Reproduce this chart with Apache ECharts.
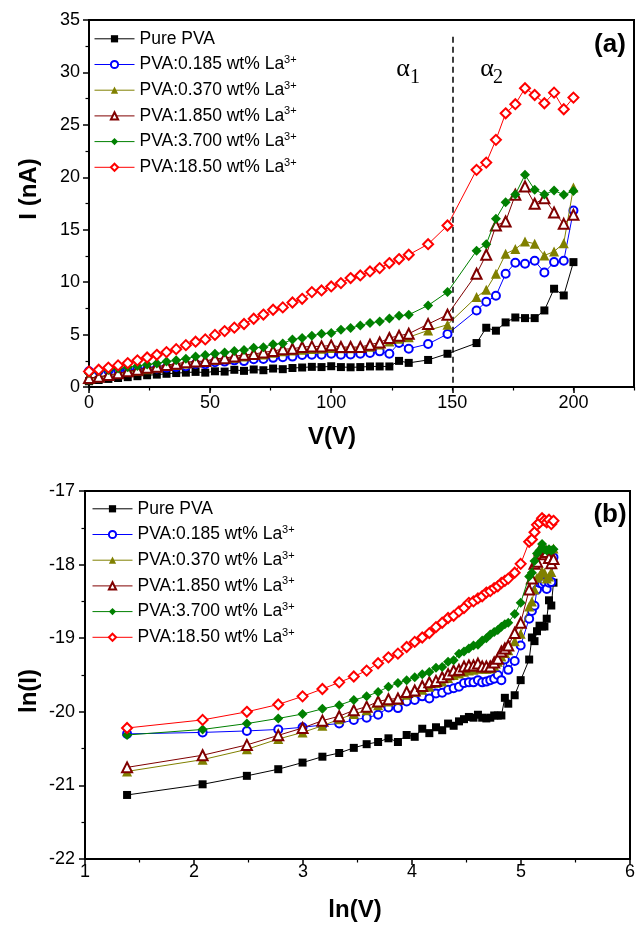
<!DOCTYPE html>
<html><head><meta charset="utf-8">
<script src="https://cdn.jsdelivr.net/npm/echarts@6/dist/echarts.min.js"></script>
<style>html,body{margin:0;padding:0;background:#fff}#c{width:642px;height:925px}</style>
</head><body><div id="c"></div>
<script>
// ---------- (a) I–V data ----------
const voltage = [0,4,8,12,16,20,24,28,32,36,40,44,48,52,56,60,64,68,72,76,80,84,88,92,96,100,104,108,112,116,120,124,128,132,140,148,160,164,168,172,176,180,184,188,192,196,200];
const iPure  = [0.55,0.67,0.77,0.86,0.94,1.03,1.12,1.18,1.26,1.33,1.37,1.44,1.37,1.50,1.47,1.64,1.54,1.67,1.60,1.76,1.70,1.81,1.86,1.92,1.90,1.98,1.90,1.88,1.90,1.96,1.96,1.96,2.49,2.30,2.58,3.17,4.19,5.65,5.37,6.16,6.63,6.57,6.57,7.30,9.37,8.73,11.91];
const i0185  = [1.50,1.53,1.56,1.59,1.62,1.67,1.72,1.76,1.85,1.90,1.98,2.19,2.17,2.37,2.42,2.54,2.47,2.65,2.67,2.78,2.84,2.90,3.05,3.08,3.08,3.17,3.08,3.11,3.17,3.24,3.40,3.17,4.19,3.65,4.10,5.05,7.30,8.13,8.70,10.80,11.85,11.75,12.04,10.92,11.91,12.04,16.83];
const i0370  = [0.75,0.92,1.08,1.24,1.42,1.56,1.70,1.86,2.00,2.10,2.25,2.37,2.42,2.59,2.70,2.78,2.90,3.04,3.10,3.26,3.40,3.47,3.55,3.62,3.65,3.72,3.70,3.70,3.72,3.85,4.05,4.35,4.60,4.75,5.40,5.94,8.58,9.27,10.80,12.70,13.15,13.88,13.66,12.54,12.92,13.72,19.02];
const i1850  = [0.85,0.97,1.14,1.31,1.50,1.65,1.83,1.94,2.10,2.21,2.37,2.44,2.47,2.70,2.75,2.92,3.07,3.14,3.30,3.43,3.61,3.64,3.81,3.87,3.87,3.97,3.81,3.81,3.81,4.03,4.25,4.67,4.89,5.08,6.00,6.89,10.80,12.61,15.40,15.78,18.33,19.12,17.47,18.01,16.64,15.56,16.42];
const i3700  = [1.30,1.50,1.62,1.76,1.88,2.00,2.14,2.25,2.42,2.54,2.70,2.90,3.04,3.17,3.30,3.43,3.54,3.75,3.79,4.07,4.15,4.54,4.67,4.89,5.08,5.14,5.46,5.62,5.87,6.10,6.25,6.54,6.79,6.89,7.78,9.05,13.00,13.62,16.04,17.63,18.36,20.23,18.80,18.36,18.74,18.33,18.70];
const i18500 = [1.49,1.65,1.85,2.06,2.28,2.54,2.81,3.07,3.33,3.61,3.99,4.32,4.54,4.97,5.33,5.66,6.01,6.51,6.91,7.37,7.59,8.06,8.41,9.05,9.21,9.59,9.91,10.39,10.64,11.02,11.34,11.82,12.20,12.61,13.62,15.40,20.71,21.40,23.57,26.10,26.97,28.49,27.85,27.06,28.07,26.49,27.60];
const dividerV = 150;
const dividerTop = 33.4;

// ---------- (b) ln(I)–ln(V) data ----------
const lnV = [1.386,2.079,2.485,2.773,2.996,3.178,3.332,3.466,3.584,3.689,3.784,3.871,3.951,4.025,4.094,4.159,4.220,4.277,4.331,4.382,4.431,4.477,4.522,4.564,4.605,4.644,4.682,4.718,4.754,4.787,4.820,4.852,4.883,4.942,4.997,5.075,5.100,5.124,5.147,5.170,5.193,5.215,5.236,5.257,5.278,5.298];
const lnPure  = [-21.13,-20.985,-20.87,-20.78,-20.69,-20.61,-20.56,-20.49,-20.44,-20.41,-20.36,-20.41,-20.315,-20.34,-20.23,-20.29,-20.21,-20.25,-20.16,-20.19,-20.13,-20.10,-20.07,-20.08,-20.04,-20.08,-20.09,-20.08,-20.05,-20.05,-20.05,-19.81,-19.89,-19.775,-19.57,-19.29,-18.99,-19.04,-18.905,-18.83,-18.84,-18.84,-18.735,-18.485,-18.556,-18.246];
const ln0185  = [-20.30,-20.28,-20.26,-20.24,-20.21,-20.18,-20.16,-20.11,-20.08,-20.04,-19.94,-19.95,-19.86,-19.84,-19.79,-19.82,-19.75,-19.74,-19.70,-19.68,-19.66,-19.61,-19.60,-19.60,-19.57,-19.60,-19.59,-19.57,-19.55,-19.50,-19.57,-19.29,-19.43,-19.31,-19.10,-18.735,-18.63,-18.56,-18.34,-18.25,-18.26,-18.235,-18.33,-18.246,-18.235,-17.90];
const ln0370  = [-20.81,-20.65,-20.51,-20.37,-20.28,-20.19,-20.10,-20.03,-19.98,-19.91,-19.86,-19.84,-19.77,-19.73,-19.70,-19.66,-19.61,-19.59,-19.54,-19.50,-19.48,-19.456,-19.44,-19.43,-19.41,-19.415,-19.415,-19.41,-19.375,-19.32,-19.25,-19.20,-19.165,-19.04,-18.94,-18.57,-18.50,-18.34,-18.18,-18.15,-18.09,-18.11,-18.19,-18.16,-18.10,-17.78];
const ln1850  = [-20.755,-20.59,-20.45,-20.32,-20.22,-20.12,-20.06,-19.98,-19.93,-19.86,-19.83,-19.82,-19.73,-19.71,-19.65,-19.60,-19.58,-19.53,-19.49,-19.44,-19.43,-19.385,-19.37,-19.37,-19.345,-19.385,-19.385,-19.385,-19.33,-19.28,-19.18,-19.14,-19.10,-18.93,-18.79,-18.34,-18.19,-17.99,-17.96,-17.81,-17.77,-17.86,-17.83,-17.91,-17.98,-17.925];
const ln3700  = [-20.315,-20.24,-20.16,-20.09,-20.03,-19.96,-19.91,-19.84,-19.79,-19.73,-19.66,-19.61,-19.57,-19.53,-19.49,-19.46,-19.40,-19.39,-19.32,-19.30,-19.21,-19.18,-19.14,-19.10,-19.09,-19.03,-19.00,-18.95,-18.915,-18.89,-18.845,-18.81,-18.79,-18.67,-18.52,-18.16,-18.11,-17.95,-17.85,-17.81,-17.72,-17.79,-17.81,-17.79,-17.81,-17.79];
const ln18500 = [-20.22,-20.11,-20.00,-19.90,-19.79,-19.69,-19.60,-19.52,-19.44,-19.34,-19.26,-19.21,-19.12,-19.05,-18.99,-18.93,-18.85,-18.79,-18.726,-18.696,-18.636,-18.59,-18.52,-18.50,-18.46,-18.43,-18.38,-18.36,-18.32,-18.295,-18.25,-18.22,-18.19,-18.11,-17.99,-17.69,-17.66,-17.56,-17.46,-17.43,-17.37,-17.40,-17.425,-17.39,-17.45,-17.405];

const seriesNames = ['Pure PVA','PVA:0.185 wt% La3+','PVA:0.370 wt% La3+','PVA:1.850 wt% La3+','PVA:3.700 wt% La3+','PVA:18.50 wt% La3+'];
const topData = [iPure, i0185, i0370, i1850, i3700, i18500];
const botData = [lnPure, ln0185, ln0370, ln1850, ln3700, ln18500];

// ---------- styles ----------
const FONT = '"Liberation Sans", Arial, sans-serif';
const SERIF = '"Liberation Serif", "DejaVu Serif", serif';
const colors  = ['#000000','#0000FF','#808000','#800000','#008000','#FF0000'];
const symbols = ['rect','emptyCircle','triangle','emptyTriangle','diamond','emptyDiamond'];
const sizes   = [8,8,10,10,10,10];

const chart = echarts.init(document.getElementById('c'), null, {renderer:'canvas'});

function axisBase(margin){
  return {
    axisLine:{show:true, onZero:false, lineStyle:{color:'#000', width:2}},
    axisTick:{show:true, inside:false, length:6, lineStyle:{color:'#000', width:1.5}},
    minorTick:{show:true, splitNumber:2, length:3.5, lineStyle:{color:'#000', width:1.2}},
    splitLine:{show:false},
    minorSplitLine:{show:false},
    axisLabel:{color:'#000', fontSize:18, fontFamily:FONT, margin:margin}
  };
}

function mkSeries(k, xs, ys, gi){
  return {
    name: seriesNames[k], type:'line',
    xAxisIndex: gi === 0 ? 0 : 2, yAxisIndex: gi,
    data: xs.map((x,i)=>[x, ys[i]]),
    symbol: symbols[k], symbolSize: sizes[k], showSymbol:true,
    lineStyle:{color:colors[k], width:1},
    itemStyle:{color:colors[k], borderWidth: symbols[k].indexOf('empty')===0 ? 1.2 : 0},
    emphasis:{disabled:true}, silent:true, animation:false, z: 2 + k
  };
}

const series = [];
for (let k=0;k<6;k++) series.push(mkSeries(k, voltage, topData[k], 0));
for (let k=0;k<6;k++) series.push(mkSeries(k, lnV, botData[k], 1));
series[0].markLine = {
  silent:true, symbol:['none','none'], label:{show:false}, animation:false,
  lineStyle:{color:'#000', type:[6,4], width:1.5},
  data:[[{coord:[dividerV, dividerTop]},{coord:[dividerV, 0]}]]
};

function legendFmt(n){
  const m = n.match(/^(.*La)3\+$/);
  return m ? '{t|'+m[1]+'}{s|3+}' : '{t|'+n+'}';
}
const legendText = {
  rich:{
    t:{fontSize:17.5, fontFamily:FONT, color:'#000', lineHeight:20},
    s:{fontSize:11, fontFamily:FONT, color:'#000', lineHeight:14, verticalAlign:'top'}
  }
};
const legendBase = {
  data:seriesNames, orient:'vertical', itemWidth:40, itemHeight:9,
  selectedMode:false, formatter:legendFmt, textStyle:legendText, padding:0,
  lineStyle:{width:1}, itemStyle:{borderWidth:1}
};

chart.setOption({
  animation:false,
  backgroundColor:'#fff',
  grid:[
    {left:89, top:20, width:545, height:367, show:true, borderColor:'#000', borderWidth:2, backgroundColor:'transparent', containLabel:false, outerBoundsMode:'none'},
    {left:85, top:491, width:545, height:368, show:true, borderColor:'#000', borderWidth:2, backgroundColor:'transparent', containLabel:false, outerBoundsMode:'none'}
  ],
  xAxis:[
    Object.assign(axisBase(7), {type:'value', gridIndex:0, position:'bottom', min:0, max:225, interval:50, minorTick:{show:false}, axisLabel:{color:'#000', fontSize:18, fontFamily:FONT, margin:7, showMaxLabel:false}}),
    {type:'value', gridIndex:0, position:'bottom', min:0, max:225, interval:25,
     axisLine:{show:false}, axisLabel:{show:false}, splitLine:{show:false},
     axisTick:{show:true, inside:false, length:3.5, lineStyle:{color:'#000', width:1.2}}},
    Object.assign(axisBase(4), {type:'value', gridIndex:1, position:'bottom', min:1, max:6, interval:1})
  ],
  yAxis:[
    Object.assign(axisBase(9), {type:'value', gridIndex:0, position:'left', min:0, max:35, interval:5}),
    Object.assign(axisBase(10), {type:'value', gridIndex:1, position:'left', min:-22, max:-17, interval:1})
  ],
  legend:[
    Object.assign({}, legendBase, {left:94, top:29.8, itemGap:6.7}),
    Object.assign({}, legendBase, {left:92, top:499.8, itemGap:6.7})
  ],
  graphic:[
    {type:'text', x:29, y:189, rotation:Math.PI/2, style:{text:'I (nA)', fontSize:24, fontWeight:'bold', fontFamily:FONT, fill:'#000', align:'center', verticalAlign:'middle'}},
    {type:'text', x:332, y:437, style:{text:'V(V)', fontSize:24, fontWeight:'bold', fontFamily:FONT, fill:'#000', align:'center', verticalAlign:'middle'}},
    {type:'text', x:29, y:691, rotation:Math.PI/2, style:{text:'ln(I)', fontSize:24, fontWeight:'bold', fontFamily:FONT, fill:'#000', align:'center', verticalAlign:'middle'}},
    {type:'text', x:355, y:910, style:{text:'ln(V)', fontSize:24, fontWeight:'bold', fontFamily:FONT, fill:'#000', align:'center', verticalAlign:'middle'}},
    {type:'text', x:610, y:45, style:{text:'(a)', fontSize:26, fontWeight:'bold', fontFamily:FONT, fill:'#000', align:'center', verticalAlign:'middle'}},
    {type:'text', x:610, y:515, style:{text:'(b)', fontSize:26, fontWeight:'bold', fontFamily:FONT, fill:'#000', align:'center', verticalAlign:'middle'}},
    {type:'text', x:403, y:69, style:{text:'α', fontSize:26, fontFamily:SERIF, fill:'#000', align:'center', verticalAlign:'middle'}},
    {type:'text', x:415, y:78, style:{text:'1', fontSize:20, fontFamily:SERIF, fill:'#000', align:'center', verticalAlign:'middle'}},
    {type:'text', x:487, y:69, style:{text:'α', fontSize:26, fontFamily:SERIF, fill:'#000', align:'center', verticalAlign:'middle'}},
    {type:'text', x:498, y:78, style:{text:'2', fontSize:20, fontFamily:SERIF, fill:'#000', align:'center', verticalAlign:'middle'}}
  ],
  series: series
});
</script>
</body></html>
